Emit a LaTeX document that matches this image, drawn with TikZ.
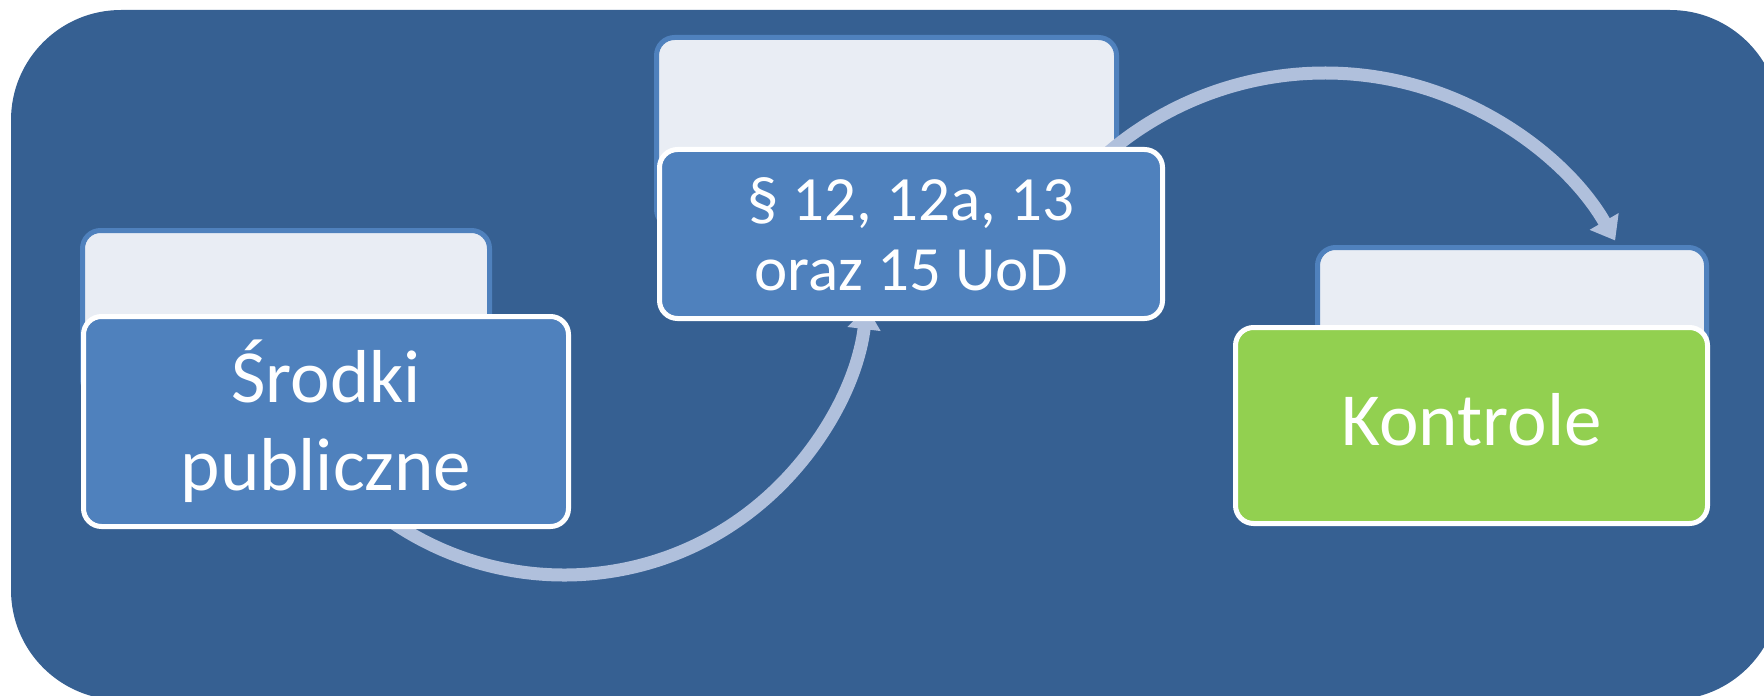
\documentclass[tikz,border=0pt]{standalone}
\usepackage{fontspec}
\setmainfont{Carlito}
\usetikzlibrary{arrows.meta}

\definecolor{bgblue}{RGB}{54,96,146}
\definecolor{boxblue}{RGB}{79,129,189}
\definecolor{paleblue}{RGB}{233,237,244}
\definecolor{leafgreen}{RGB}{146,208,80}
\definecolor{flowblue}{RGB}{176,192,220}

\begin{document}
\begin{tikzpicture}[x=0.5pt,y=-0.5pt,
  backcard/.style={draw=boxblue,fill=paleblue,line width=2.5pt,
    rounded corners=9pt,inner sep=0pt},
  frontcard/.style={draw=white,line width=2.5pt,rounded corners=9pt,
    inner sep=0pt,text=white,align=center},
  bigtext/.style={font=\fontsize{37.5}{44}\selectfont},
  midtext/.style={font=\fontsize{31.5}{35}\selectfont},
  flow/.style={draw=flowblue,line width=6.5pt,
    -{Triangle[width=16pt,length=11pt]}}]

\clip (0,0) rectangle (1764,695);

% rounded backdrop
\fill[bgblue,rounded corners=55pt] (11,10) rectangle (1780,700);

% pale cards behind each step
\node[backcard,minimum width=203.5pt,minimum height=83.5pt] (backA) at (286,314) {};
\node[backcard,minimum width=230pt,minimum height=95pt] (backB) at (886.5,132.5) {};
\node[backcard,minimum width=194.5pt,minimum height=75pt] (backC) at (1512,322.5) {};

% arc centres
\coordinate (arcA) at (564,270);
\coordinate (arcB) at (1325,408);

% curved connectors between the steps
\draw[flow] ([shift={(140:305)}]arcA) arc[start angle=140,end angle=7,radius=305];
\draw[flow] ([shift={(228:335)}]arcB) arc[start angle=228,end angle=330,radius=335];

% step cards
\node[frontcard,bigtext,fill=boxblue,minimum width=242.5pt,minimum height=105pt]
  (stepA) at (326,421.5) {Środki\\publiczne};
\node[frontcard,midtext,fill=boxblue,minimum width=251.5pt,minimum height=84.5pt]
  (stepB) at (911,234) {§ 12, 12a, 13\\oraz 15 UoD};
\node[frontcard,bigtext,fill=leafgreen,minimum width=236pt,minimum height=98pt,
  text depth=6pt]
  (stepC) at (1471.5,425.5) {Kontrole};

\end{tikzpicture}
\end{document}
